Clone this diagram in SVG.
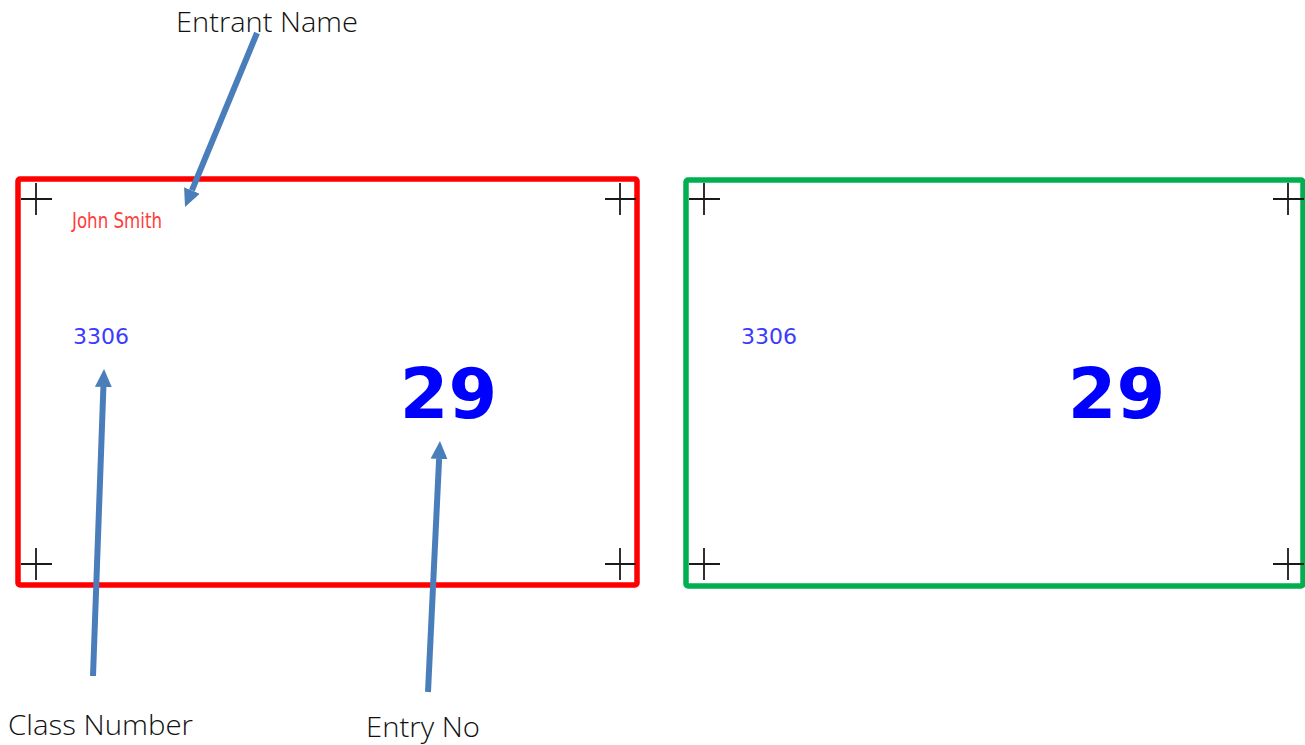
<svg xmlns="http://www.w3.org/2000/svg" width="1305" height="745" viewBox="0 0 1305 745">
<defs>
<style>
.card{fill:none;stroke-width:5.5}
.cross{stroke:#1a1a1a;stroke-width:1.8;fill:none}
.name{font-family:"DejaVu Sans Condensed","DejaVu Sans",sans-serif;font-size:22px;fill:#ff3c3c}
.cls{font-family:"DejaVu Sans",sans-serif;font-size:22px;fill:#3b3bff}
.num{font-family:"DejaVu Sans",sans-serif;font-weight:bold;font-size:70px;fill:#0000ff;text-anchor:middle}
.lbl{font-family:"Open Sans","Liberation Sans",sans-serif;font-weight:300;font-size:28px;fill:#111111}
.arrow{stroke:#4a7ebb;stroke-width:6;fill:none}
</style>
<marker id="ah" viewBox="0 0 10 10" refX="0" refY="5" markerWidth="3" markerHeight="3" markerUnits="strokeWidth" orient="auto">
<path d="M0,0.3 L10,5 L0,9.7 Z" fill="#4a7ebb"/>
</marker>
<path id="x" d="M-15,0 H16 M0,-16 V16"/>
</defs>
<rect width="1305" height="745" fill="#ffffff"/>

<g id="card-left">
<rect class="card" x="18" y="179" width="619" height="406" rx="2" stroke="#ff0000"/>
<use href="#x" class="cross" x="36" y="199"/>
<use href="#x" class="cross" x="620" y="199"/>
<use href="#x" class="cross" x="36" y="564"/>
<use href="#x" class="cross" x="620" y="564"/>
<text class="name" x="72" y="228" textLength="90" lengthAdjust="spacingAndGlyphs">John Smith</text>
<text class="cls" x="73" y="344">3306</text>
<text class="num" x="448.5" y="418">29</text>
</g>

<g id="card-right">
<rect class="card" x="686" y="180" width="617" height="406" rx="2" stroke="#00b050"/>
<use href="#x" class="cross" x="704" y="199"/>
<use href="#x" class="cross" x="1288" y="199"/>
<use href="#x" class="cross" x="704" y="564"/>
<use href="#x" class="cross" x="1288" y="564"/>
<text class="cls" x="741" y="344">3306</text>
<text class="num" x="1116.5" y="418">29</text>
</g>

<g id="label-entrant"><text class="lbl" x="176" y="32" textLength="182" lengthAdjust="spacingAndGlyphs">Entrant Name</text></g>
<g id="label-class"><text class="lbl" x="8" y="735" textLength="185" lengthAdjust="spacingAndGlyphs">Class Number</text></g>
<g id="label-entry"><text class="lbl" x="366" y="737" textLength="114" lengthAdjust="spacingAndGlyphs">Entry No</text></g>

<g id="connectors">
<line class="arrow" x1="257" y1="33" x2="191.9" y2="190.4" marker-end="url(#ah)"/>
<line class="arrow" x1="93" y1="676" x2="103.4" y2="387" marker-end="url(#ah)"/>
<line class="arrow" x1="428" y1="692" x2="439.1" y2="459" marker-end="url(#ah)"/>
</g>
</svg>
